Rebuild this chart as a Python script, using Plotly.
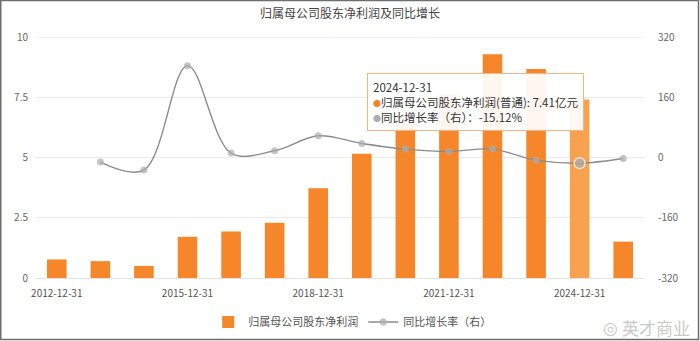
import plotly.graph_objects as go

# Reporting periods and values
periods = ["2012-12-31", "2013-12-31", "2014-12-31", "2015-12-31", "2016-12-31",
           "2017-12-31", "2018-12-31", "2019-12-31", "2020-12-31", "2021-12-31",
           "2022-12-31", "2023-12-31", "2024-12-31", "2025-03-31"]
net_profit = [0.77, 0.70, 0.50, 1.71, 1.93, 2.29, 3.72, 5.16, 6.50, 7.60,
              9.28, 8.67, 7.41, 1.51]          # 亿元
yoy_growth = [None, -12.2, -33.5, 244.0, 11.7, 17.8, 57.6, 37.2, 22.3, 16.0,
              22.3, -7.0, -15.12, -2.7]        # %

left_ticks = [0, 2.5, 5, 7.5, 10]
left_labels = ["0", "2.5", "5", "7.5", "10"]
right_ticks = [-320, -160, 0, 160, 320]
right_labels = ["-320", "-160", "0", "160", "320"]
x_label_idx = [0, 3, 6, 9, 12]

bar_name = "归属母公司股东净利润"
line_name = "同比增长率（右）"
title_text = "归属母公司股东净利润及同比增长"
hover_idx = 12

ORANGE = "#F5862A"
ORANGE_HI = "#F8A14F"
GREY_LINE = "#8C8C8C"
GREY_DOT = "#A9ADB0"
GRID = "#EBEBEB"
FONT = "Noto Sans CJK SC"

bar_colors = [ORANGE_HI if i == hover_idx else ORANGE for i in range(len(periods))]
dot_sizes = [11 if i == hover_idx else 7 for i in range(len(periods))]
dot_lw = [1.5 if i == hover_idx else 0 for i in range(len(periods))]

fig = go.Figure()
fig.add_trace(go.Bar(
    x=periods, y=net_profit, name=bar_name,
    marker=dict(color=bar_colors, line=dict(width=0)),
    width=0.45, yaxis="y",
))
fig.add_trace(go.Scatter(
    x=periods, y=yoy_growth, name=line_name, mode="lines+markers",
    line=dict(color=GREY_LINE, width=1.4, shape="spline", smoothing=1.0),
    marker=dict(color=GREY_DOT, size=dot_sizes,
                line=dict(color="white", width=dot_lw)),
    yaxis="y2", connectgaps=False,
))

ml, mr, mt, mb = 35, 55, 37, 63
W, H = 700, 341
pw, ph = W - ml - mr, H - mt - mb

def px_to_paper_x(px):
    return (px - ml) / pw

def px_to_paper_y(py):
    return (H - mb - py) / ph

tooltip = (
    f"{periods[hover_idx]}<br>"
    f"<span style='color:{ORANGE};font-size:8px'>●</span>{bar_name}(普通): {net_profit[hover_idx]:.2f}亿元<br>"
    f"<span style='color:{GREY_DOT};font-size:8px'>●</span>同比增长率（右）：{yoy_growth[hover_idx]:.2f}%"
)

annotations = [
    dict(text=tooltip, xref="paper", yref="paper",
         x=px_to_paper_x(367), y=px_to_paper_y(73), xanchor="left", yanchor="top",
         showarrow=False, align="left",
         font=dict(family=FONT, size=11.5, color="#333333"),
         bgcolor="rgba(255,255,255,0.93)", bordercolor="#F1B58A", borderwidth=1,
         borderpad=5),
    dict(text="英才商业", xref="paper", yref="paper",
         x=px_to_paper_x(692), y=px_to_paper_y(327), xanchor="right", yanchor="middle",
         showarrow=False, font=dict(family=FONT, size=17, color="rgba(190,190,190,0.85)")),
    dict(text="◎", xref="paper", yref="paper",
         x=px_to_paper_x(620), y=px_to_paper_y(328), xanchor="right", yanchor="middle",
         showarrow=False, font=dict(family="DejaVu Sans", size=17, color="rgba(190,190,190,0.85)")),
]

shapes = [
    # top grid line at the upper end of the left axis
    dict(type="line", xref="paper", yref="y", x0=0, x1=1, y0=left_ticks[-1], y1=left_ticks[-1],
         line=dict(color=GRID, width=1), layer="below"),
    # thin frame around the whole canvas
    dict(type="rect", xref="paper", yref="paper",
         x0=px_to_paper_x(0.75), x1=px_to_paper_x(W - 1.5),
         y0=px_to_paper_y(H - 1.5), y1=px_to_paper_y(0.5),
         line=dict(color="#6E6E6E", width=1.5), fillcolor="rgba(0,0,0,0)", layer="above"),
]

fig.update_layout(
    width=W, height=H,
    margin=dict(l=ml, r=mr, t=mt, b=mb, autoexpand=False),
    paper_bgcolor="white", plot_bgcolor="white",
    font=dict(family=FONT, size=10, color="#666666"),
    title=dict(text=title_text, x=0.5, xref="container", xanchor="center",
               y=1 - 14 / H, yref="container", yanchor="middle",
               font=dict(family=FONT, size=12, color="#444444")),
    xaxis=dict(type="category", tickmode="array",
               tickvals=[periods[i] for i in x_label_idx],
               ticktext=[periods[i] for i in x_label_idx],
               showgrid=False, showline=True, linecolor="#E3E3E3", linewidth=1,
               ticks="", tickfont=dict(size=10, color="#555555"), ticklabelstandoff=6,
               range=[-0.5, len(periods) - 0.5], automargin=False),
    yaxis=dict(range=[0, 10.001], tickvals=left_ticks, ticktext=left_labels,
               showgrid=True, gridcolor=GRID, gridwidth=1, zeroline=False,
               tickfont=dict(size=10, color="#666666"), ticks="", ticklabelstandoff=6,
               automargin=False),
    yaxis2=dict(range=[-320, 320.03], tickvals=right_ticks, ticktext=right_labels,
                overlaying="y", side="right", showgrid=False, zeroline=False,
                tickfont=dict(size=10, color="#666666"), ticks="", ticklabelstandoff=12,
                automargin=False),
    legend=dict(orientation="h", x=0.52, xanchor="center", y=px_to_paper_y(322),
                yanchor="middle", font=dict(family=FONT, size=11, color="#555555"),
                itemwidth=30, bgcolor="rgba(0,0,0,0)"),
    bargap=0.55,
    showlegend=True,
    annotations=annotations,
    shapes=shapes,
)

fig.write_html("out.html")
